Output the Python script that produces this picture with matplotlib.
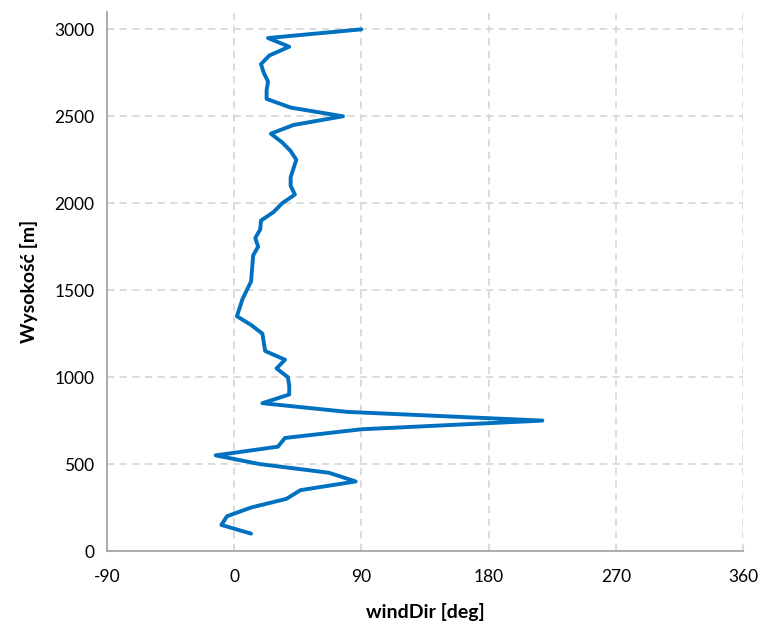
import matplotlib
matplotlib.use("Agg")
import matplotlib.pyplot as plt

plt.rcParams['font.family'] = ['Lato', 'DejaVu Sans']

altitude_m = [100, 150, 200, 250, 300, 350, 400, 450, 500, 550,
              600, 650, 700, 750, 800, 850, 900, 950, 1000, 1050,
              1100, 1150, 1200, 1250, 1300, 1350, 1400, 1450, 1500, 1550,
              1600, 1650, 1700, 1750, 1800, 1850, 1900, 1950, 2000, 2050,
              2100, 2150, 2200, 2250, 2300, 2350, 2400, 2450, 2500, 2550,
              2600, 2650, 2700, 2750, 2800, 2850, 2900, 2950, 3000]
wind_dir_deg = [12, -9, -5, 12, 37, 47, 86, 67, 18, -13,
                31, 36, 90, 218, 80, 20, 39, 39, 38, 30,
                36, 22, 21, 20, 12, 2, 4, 6, 9, 12,
                12.5, 13, 13.5, 17, 15, 18.5, 19, 28, 34, 43,
                40, 40, 42, 44, 40, 34, 26, 42, 77, 40,
                23, 23, 24, 21, 19, 25, 39, 24, 90]

x_ticks = [-90, 0, 90, 180, 270, 360]
y_ticks = [0, 500, 1000, 1500, 2000, 2500, 3000]

fig = plt.figure(figsize=(7.63, 6.29), dpi=100)
ax = fig.add_axes([0.140, 0.124, 0.834, 0.857])

ax.plot(wind_dir_deg, altitude_m, color='#0070C0', linewidth=2.8,
        solid_joinstyle='round', solid_capstyle='round', zorder=3)

ax.set_xlim(-90, 360)
ax.set_ylim(0, 3100)
ax.set_xticks(x_ticks)
ax.set_yticks(y_ticks)
ax.set_xticklabels([str(v) for v in x_ticks])
ax.set_yticklabels([str(v) for v in y_ticks])

ax.grid(True, color='#D9D9D9', linestyle=(0, (4, 3)), linewidth=1.3, zorder=0)
ax.set_axisbelow(True)

for s in ['top', 'right']:
    ax.spines[s].set_visible(False)
for s in ['left', 'bottom']:
    ax.spines[s].set_color('#A6A6A6')
    ax.spines[s].set_linewidth(1.3)

ax.tick_params(axis='both', direction='in', length=5, color='#D9D9D9',
               labelsize=12.5, labelcolor='#000000')
ax.tick_params(axis='x', pad=13)
ax.tick_params(axis='y', pad=9)

ax.set_xlabel('windDir [deg]', fontsize=14, fontweight='bold', labelpad=13)
ax.set_ylabel('Wysokość [m]', fontsize=14, fontweight='bold', labelpad=12)

fig.savefig('out.png', dpi=100)
